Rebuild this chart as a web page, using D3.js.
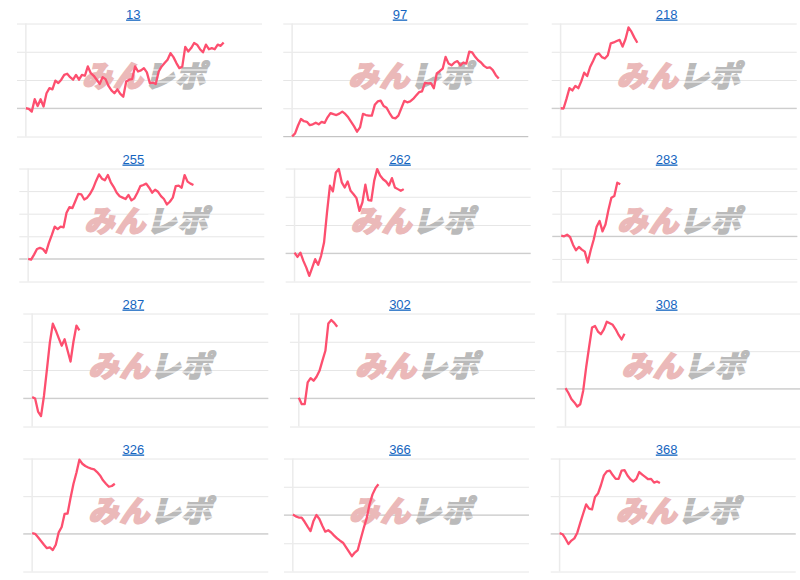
<html>
<head>
<meta charset="utf-8">
<style>
  body { margin:0; background:#fff; }
  svg text.title { font: 13px "Liberation Sans", Arial, sans-serif; fill:#1565c0; text-decoration: underline; }
  .grid line { stroke:#e6e6e6; stroke-width:1; }
  .grid path { display:none; }
  .mark { font-family:"Noto Sans CJK JP", sans-serif; font-weight:900; font-size:30px; font-style:italic; }
</style>
</head>
<body>
<svg id="chart" width="800" height="580"></svg>
<script src="https://d3js.org/d3.v7.min.js"></script>
<script>
// codes shown above each panel
var codes = ["13","97","218","255","262","283","287","302","308","326","366","368"];

// % change since start, one value per day
var v13 = [0,-0.2,-1.2,3.2,0.8,3.2,0.6,5.3,7.1,6.7,9.8,8.9,10.1,11.8,12.2,11,10.1,11.8,10.1,11.8,11.5,14.8,12.4,11.5,10.1,8.6,11,10.3,7.9,6.3,5.3,6.7,5.1,4.1,9.5,10.1,10.3,14.8,13,13.4,14.2,12.7,8.9,9.1,8.6,13,14.8,16,17.2,19.5,18.1,16,14.2,14.8,21.7,20.1,21.3,23.1,22.5,20.9,19.8,22.5,20.9,21.3,20.9,22.5,22.1,23.3];
var v97 = [0,1.1,3.9,6.2,5.4,5.2,4,4.3,4.9,4.3,5.2,4.8,6.8,8.3,7.9,7.6,8.1,8.8,8,6.8,5.2,3.6,1.7,3.2,8,7.6,7.4,7.4,11.2,12.4,12.7,10.8,10.2,8.3,6.7,6.4,7.4,10,12.6,12.1,12.4,13.3,14.5,15.7,16,19,18.8,18.9,17.1,22.3,23.1,24,28.2,25.8,25.2,26.2,26.7,25.2,26.2,25.8,30,29.8,28.2,27,26.2,25,24.3,24.5,23.5,21.7,20.5];
var v218 = [0,-0.1,3.3,7.1,6.3,7.9,7.1,9.5,12.6,11.4,14.6,16.7,19,19.4,18.1,17.6,18.8,23,23.3,23.8,24.2,21.8,24.5,28.6,27.1,25,23.2];
var v255 = [0,-0.3,1.9,4.4,4.9,4.4,2.7,7,10.5,14.3,13.2,14.3,14,20.4,22.9,22.5,25.6,28.8,28.6,26.3,27.1,28.8,31.2,34.5,37.4,35.5,34.8,37.1,33.9,31.8,29.3,27.7,27.1,26.5,28.3,25.9,26.8,29.3,32.2,32.7,33.3,31.5,29.3,30.6,29.7,27.8,26.5,24.1,25.3,27.1,32.2,32.4,31.5,37.1,34.2,33.3,32.7];
var v262 = [0.2,-1.3,0.2,-2.7,-5.1,-8,-5.1,-2.1,-4.1,-0.9,3.8,14.4,23.9,21.9,28.6,29.8,25.1,23.3,25.4,22.1,20.9,19.5,15,18,24.3,18.8,18.6,25.7,29.8,27.5,26.2,25.4,24,26.6,23.3,22.7,22.1,22.7];
var v283 = [0.3,0,0.7,-0.3,-3.7,-6.2,-4.7,-5.9,-6.8,-11.6,-6.2,-1.5,4.2,6.8,2.2,5.2,11.6,17.1,17.8,23.7,23];
var v287 = [0.4,-0.1,-4.7,-6.3,0.8,10.1,19.8,26.4,24,21.3,18.6,20.9,16.9,13,20.1,25.7,24];
var v302 = [0.2,-2.1,-2.1,5.6,7.1,6.2,7.6,9.7,13.3,16.8,26.5,27.7,26.7,25.3];
var v308 = [0.2,-1.1,-2.7,-3.6,-4.7,-4.1,-0.5,5.7,11.1,16.3,16.7,15.2,14.5,15.8,17.8,17.4,17,15.8,14.3,13.1,14.6];
var v326 = [0.2,0,-0.9,-1.9,-2.9,-3.8,-3.6,-4.3,-2.9,0.4,1.8,5.3,5.4,9.5,13.3,16.2,19.7,18.6,18,17.6,17.3,17.1,16.4,15.5,14.2,13.3,12.5,12.7,13.3];
var v366 = [0.2,-0.5,-0.9,-0.9,-2.4,-4.1,-5.7,-2.1,0,-1.4,-3.8,-5.9,-5.4,-6.2,-7.3,-8.3,-9.1,-9.8,-11.4,-13,-14.6,-13.3,-12.4,-8.5,-4.7,-1.2,3.8,7.3,9.5,10.9];
var v368 = [0.2,-0.1,-1.3,-2.7,-1.8,-1.2,0.3,2.9,5.4,7.8,6.7,6.5,9.8,10.7,12.9,15.5,16.6,16.8,15.6,14.6,14.6,16.8,16.9,15.5,14.5,13.9,14.6,16.4,15.7,15.1,14.5,14.6,13.6,13.9,13.5];

// gridline values per panel
var t13 = [-10,0,10,20,30];
var t97 = [0,10,20,30,40];
var t218 = [-10,0,10,20,30];
var t255 = [-10,0,10,20,30,40];
var t262 = [-10,0,10,20,30];
var t283 = [-20,-10,0,10,20,30];
var t287 = [-10,0,10,20,30];
var t302 = [-10,0,10,20,30];
var t308 = [-10,0,10,20];
var t326 = [-10,0,10,20];
var t366 = [-20,-10,0,10,20];
var t368 = [-10,0,10,20];

var series = [v13,v97,v218,v255,v262,v283,v287,v302,v308,v326,v366,v368];
var tickSets = [t13,t97,t218,t255,t262,t283,t287,t302,t308,t326,t366,t368];

// layout
var cellW = 800/3, cellH = 145, plotW = 245;
var padLeft = [17,16.6,18.4, 19.3,19,19, 23.3,23.3,23.3, 23.3,17.3,17.4];
var days = 80;

var svg = d3.select('#chart');

codes.forEach(function(code, i){
  var col = i % 3, row = Math.floor(i / 3);
  var cx = col * cellW, cy = row * cellH;
  var left = cx + padLeft[i];
  var ticks = tickSets[i];

  var x = d3.scaleLinear().domain([-3, days]).range([left, left + plotW]);
  var y = d3.scaleLinear().domain([ticks[0], ticks[ticks.length-1]]).range([cy + 136.5, cy + 23.5]);

  var g = svg.append('g');

  // gridlines
  g.append('g')
    .attr('class', 'grid')
    .attr('transform', 'translate(' + left + ',0)')
    .call(d3.axisLeft(y).tickValues(ticks).tickSize(-plotW).tickFormat(''));

  // baseline
  g.append('line')
    .attr('x1', left).attr('x2', left + plotW)
    .attr('y1', y(0)).attr('y2', y(0))
    .attr('stroke', '#c4c4c4').attr('stroke-width', 1);

  // left axis line at day 0
  g.append('line')
    .attr('x1', x(0)).attr('x2', x(0))
    .attr('y1', y.range()[1]).attr('y2', y.range()[0])
    .attr('stroke', '#ebebeb').attr('stroke-width', 1.5);

  // watermark
  var mx = (x(0) + left + plotW) / 2;
  var wm = g.append('g').attr('transform', 'translate(' + mx + ',' + (cy + 87) + ')');
  var mark = wm.append('text')
    .attr('class', 'mark')
    .attr('text-anchor', 'middle')
    .attr('letter-spacing', 1);
  mark.append('tspan').attr('fill', '#ebb9b9').attr('stroke', '#ebb9b9').attr('stroke-width', 1.6).text('みん');
  mark.append('tspan').attr('fill', '#bababa').attr('stroke', '#bababa').attr('stroke-width', 1.6).text('レポ');
  // speed stripes through the grey half
  [-17, -11, -5].forEach(function(dy){
    wm.append('line')
      .attr('x1', 2).attr('x2', 64)
      .attr('y1', dy).attr('y2', dy)
      .attr('stroke', '#fff').attr('stroke-width', 1.2);
  });

  // series line
  var line = d3.line()
    .x(function(d, j){ return x(j); })
    .y(function(d){ return y(d); });

  g.append('path')
    .datum(series[i])
    .attr('d', line)
    .attr('fill', 'none')
    .attr('stroke', '#fd4f6f')
    .attr('stroke-width', 2.3)
    .attr('stroke-linejoin', 'round');

  // title
  g.append('text')
    .attr('class', 'title')
    .attr('x', cx + cellW/2)
    .attr('y', cy + 18.5)
    .attr('text-anchor', 'middle')
    .text(code);
});
</script>
</body>
</html>
